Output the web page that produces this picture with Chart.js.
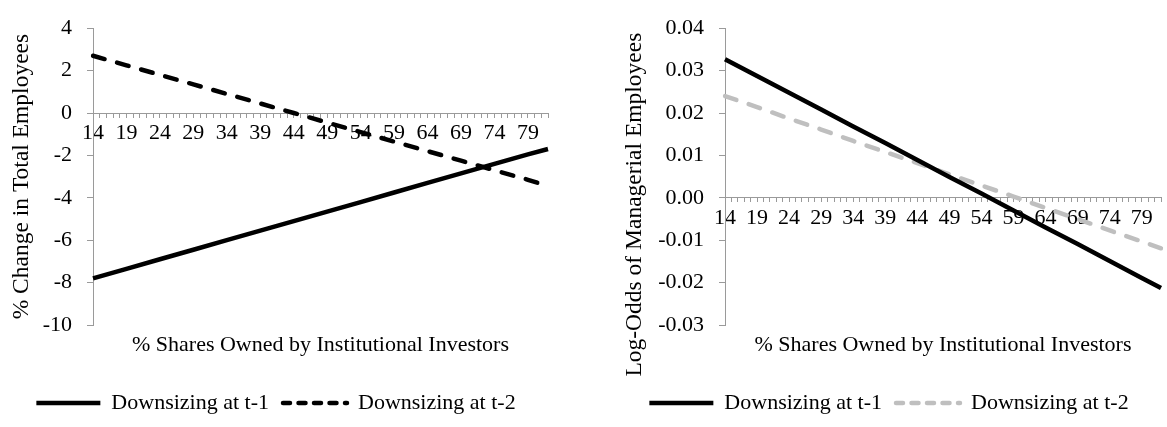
<!DOCTYPE html>
<html>
<head>
<meta charset="utf-8">
<script src="https://cdn.jsdelivr.net/npm/chart.js@4.4.1/dist/chart.umd.min.js"></script>
<style>
  html, body { margin: 0; padding: 0; background: #fff; }
  #wrap { position: relative; width: 1167px; height: 427px; }
  canvas { position: absolute; top: 0; }
</style>
</head>
<body>
<div id="wrap">
  <canvas id="TotalChart" width="583" height="427" style="left:0"></canvas>
  <canvas id="ManagerChart" width="584" height="427" style="left:583px"></canvas>
</div>
<script>
// categories: % shares owned by institutional investors
var Shares = ['14','15','16','17','18','19','20','21','22','23','24','25','26','27','28','29','30',
  '31','32','33','34','35','36','37','38','39','40','41','42','43','44','45','46','47','48','49','50',
  '51','52','53','54','55','56','57','58','59','60','61','62','63','64','65','66','67','68','69','70',
  '71','72','73','74','75','76','77','78','79','80','81','82'];

// points
var ReadAt = ['14','19','24','29','34','39','44','49','54','59','64','69','74','79','82'];

var TotalT1 = [-7.8, -7.35, -6.9, -6.45, -6.0, -5.55, -5.1, -4.65, -4.2, -3.75, -3.3, -2.85, -2.4, -1.95, -1.7];
var TotalT2 = [2.7, 2.25, 1.8, 1.35, 0.9, 0.45, 0.0, -0.45, -0.9, -1.35, -1.8, -2.25, -2.7, -3.15, -3.45];

var ManagerT1 = [0.0327, 0.0287, 0.0248, 0.0208, 0.0168, 0.0129, 0.0089, 0.0049, 0.0010, -0.0030, -0.0070, -0.0109, -0.0149, -0.0189, -0.0213];
var ManagerT2 = [0.0240, 0.0214, 0.0187, 0.0161, 0.0134, 0.0108, 0.0082, 0.0055, 0.0029, 0.0003, -0.0024, -0.0050, -0.0077, -0.0103, -0.0119];

var SeriesNames = ['Downsizing at t-1', 'Downsizing at t-2'];
var XTitle = '% Shares Owned by Institutional Investors';

var fontFamily = '"Liberation Serif", "Times New Roman", serif';
var fontSize = 22;
var axisGray = '#9a9a9a';

function points(values) {
  return ReadAt.map(function (s, i) {
    return { x: s, y: values[i] };
  });
}

function lineSet(label, values, colour, dashed) {
  return {
    label: label,
    data: points(values),
    borderColor: colour,
    backgroundColor: colour,
    borderWidth: 4.5,
    borderDash: dashed ? [12, 13] : [],
    borderCapStyle: dashed ? 'round' : 'butt',
    pointRadius: 0,
    tension: 0,
    fill: false
  };
}

// legend samples drawn as line strokes, dashed ones a bit tighter like Excel
function legendItems(chart) {
  return chart.data.datasets.map(function (ds, i) {
    return {
      text: ds.label,
      fillStyle: ds.borderColor,
      strokeStyle: ds.borderColor,
      lineWidth: ds.borderWidth,
      lineDash: ds.borderDash.length ? [7, 8.5] : [],
      lineCap: ds.borderCapStyle,
      pointStyle: 'line',
      fontColor: '#000',
      hidden: false,
      datasetIndex: i
    };
  });
}

// rotated y-axis title, Excel does not always centre it on the plot
var yTitlePlugin = {
  id: 'yTitle',
  afterDraw: function (chart, args, opts) {
    var ctx = chart.ctx;
    var area = chart.chartArea;
    ctx.save();
    ctx.font = opts.size + 'px ' + fontFamily;
    ctx.fillStyle = '#000';
    ctx.textAlign = 'center';
    ctx.textBaseline = 'middle';
    ctx.translate(opts.x, (area.top + area.bottom) / 2 + opts.shift);
    ctx.rotate(-Math.PI / 2);
    ctx.fillText(opts.text, 0, 0);
    ctx.restore();
  }
};

function DrawChart(id, sets, yMin, yMax, yStep, yTitle, yFormat, pad, yWidth) {
  var config = {
    type: 'line',
    data: { labels: Shares, datasets: sets },
    plugins: [yTitlePlugin],
    options: {
      responsive: false,
      animation: false,
      layout: { padding: pad },
      scales: {
        x: {
          type: 'category',
          position: { y: 0 },
          offset: false,
          grid: { drawOnChartArea: false, drawTicks: true, tickLength: 4, color: axisGray },
          border: { color: axisGray, width: 1 },
          ticks: {
            autoSkip: false,
            maxRotation: 0,
            minRotation: 0,
            padding: 3,
            color: '#000',
            font: { family: fontFamily, size: fontSize },
            callback: function (value, index) {
              return index % 5 === 0 ? this.getLabelForValue(value) : '';
            }
          }
        },
        y: {
          min: yMin,
          max: yMax,
          grid: { drawOnChartArea: false, drawTicks: true, tickLength: 6, color: axisGray },
          border: { color: axisGray, width: 1 },
          ticks: {
            stepSize: yStep,
            padding: 15,
            color: '#000',
            font: { family: fontFamily, size: fontSize },
            callback: yFormat
          },
          afterFit: function (scale) { scale.width = yWidth; }
        }
      },
      plugins: {
        yTitle: yTitle,
        title: {
          display: true,
          text: XTitle,
          position: 'bottom',
          fullSize: false,
          weight: 500,
          color: '#000',
          padding: { top: 7, bottom: 19.6 },
          font: { family: fontFamily, size: fontSize, weight: 'normal' }
        },
        legend: {
          position: 'bottom',
          labels: {
            usePointStyle: true,
            pointStyle: 'line',
            pointStyleWidth: 64,
            padding: 14,
            color: '#000',
            font: { family: fontFamily, size: fontSize },
            generateLabels: legendItems
          }
        },
        tooltip: { enabled: false }
      }
    }
  };
  var ctx = document.getElementById(id).getContext('2d');
  return new Chart(ctx, config);
}

DrawChart('TotalChart',
  [lineSet(SeriesNames[0], TotalT1, '#000000', false), lineSet(SeriesNames[1], TotalT2, '#000000', true)],
  -10, 4, 2,
  { text: '% Change in Total Employees', x: 22, shift: 0, size: 23.5 },
  function (v) { return v; },
  { top: 17, left: 4, right: 35, bottom: 3 }, 89);

DrawChart('ManagerChart',
  [lineSet(SeriesNames[0], ManagerT1, '#000000', false), lineSet(SeriesNames[1], ManagerT2, '#bfbfbf', true)],
  -0.03, 0.04, 0.01,
  { text: 'Log-Odds of Managerial Employees', x: 52, shift: 28, size: 23.5 },
  function (v) { return Number(v).toFixed(2); },
  { top: 17, left: 34, right: 6, bottom: 3 }, 108);
</script>
</body>
</html>
